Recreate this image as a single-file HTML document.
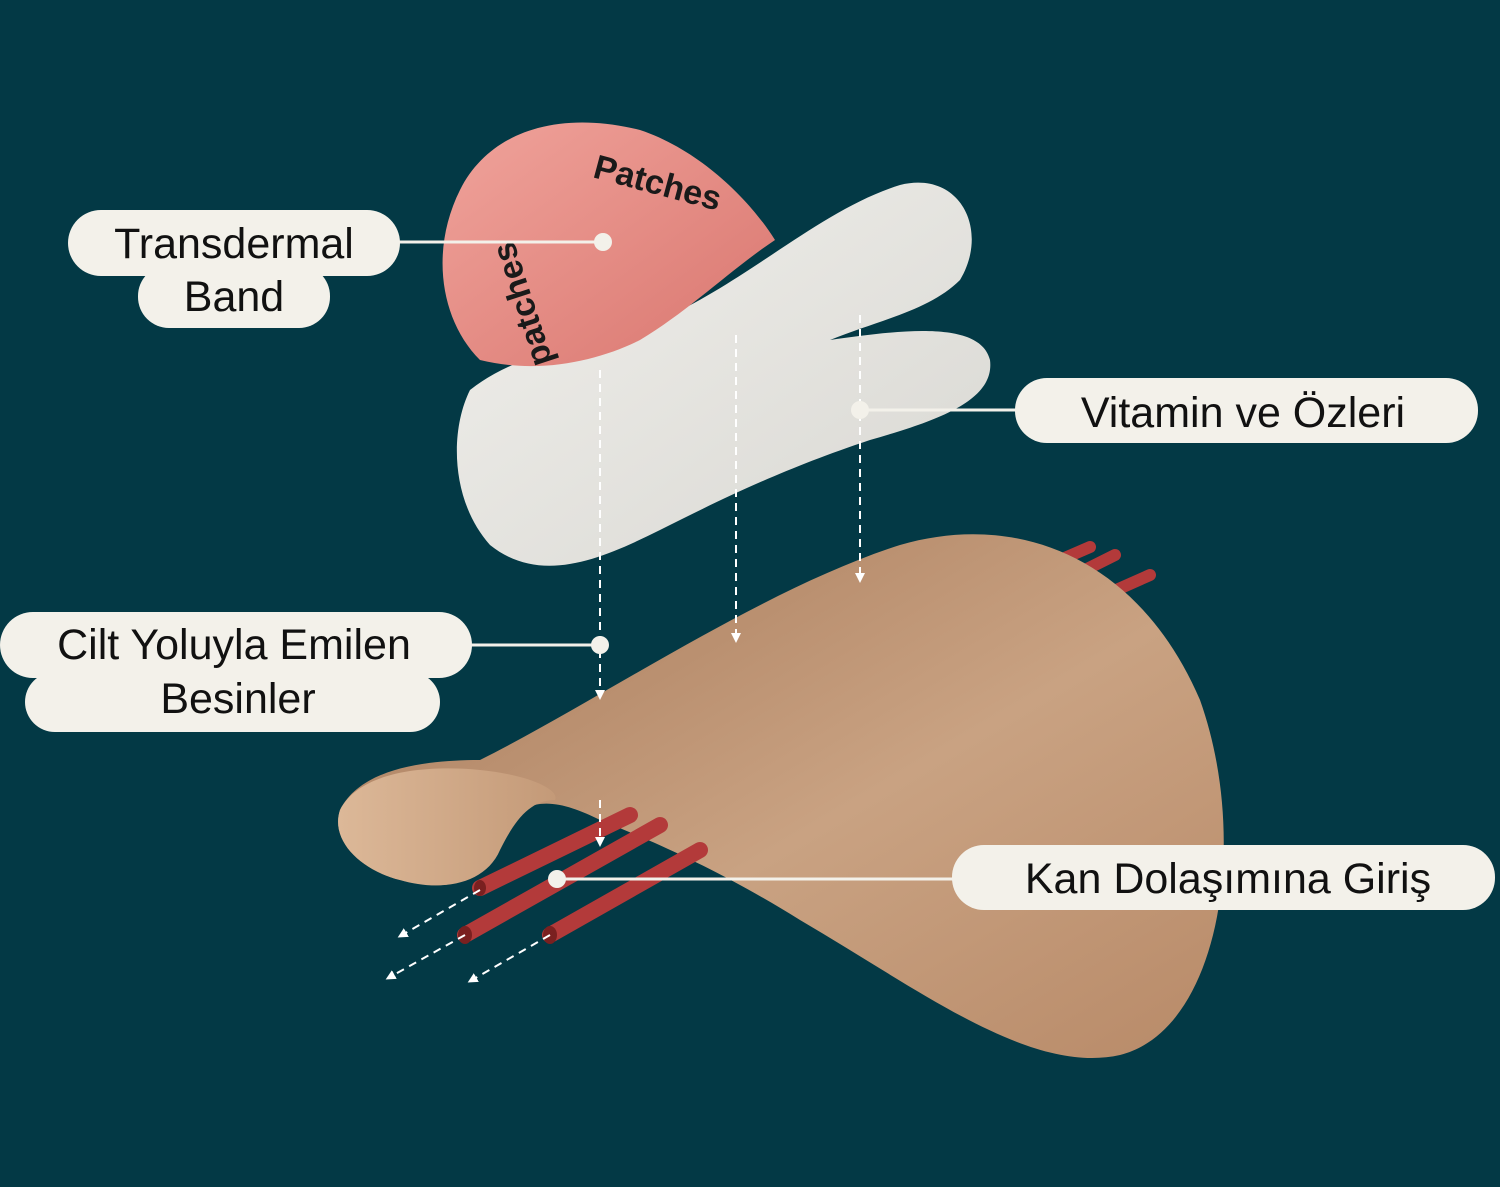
<!DOCTYPE html>
<html><head><meta charset="utf-8"><style>
html,body{margin:0;padding:0;background:#033945;}
svg{display:block}
text{font-family:"Liberation Sans",sans-serif;}
</style></head><body>
<svg width="1500" height="1187" viewBox="0 0 1500 1187" xmlns="http://www.w3.org/2000/svg">
<defs>
<linearGradient id="pink" x1="0" y1="0" x2="1" y2="1"><stop offset="0" stop-color="#f0a39b"/><stop offset="1" stop-color="#d9766f"/></linearGradient>
<linearGradient id="white" x1="0" y1="0" x2="1" y2="1"><stop offset="0" stop-color="#f1f0ec"/><stop offset="1" stop-color="#d8d7d2"/></linearGradient>
<linearGradient id="skin" x1="0" y1="0" x2="1" y2="1"><stop offset="0" stop-color="#a67858"/><stop offset="0.55" stop-color="#c9a282"/><stop offset="1" stop-color="#b88a68"/></linearGradient>
<linearGradient id="skin2" x1="0" y1="0" x2="1" y2="0"><stop offset="0" stop-color="#dcb898"/><stop offset="1" stop-color="#c49a78"/></linearGradient>
<marker id="ah" markerWidth="10" markerHeight="10" refX="5" refY="5" orient="auto" markerUnits="userSpaceOnUse"><path d="M0,0 L10,5 L0,10 z" fill="#fff"/></marker>
</defs>
<rect width="1500" height="1187" fill="#033945"/>

<g stroke="#b33a3a" stroke-width="12" stroke-linecap="round">
<line x1="1060" y1="560" x2="1090" y2="547"/>
<line x1="1075" y1="575" x2="1115" y2="555"/>
<line x1="1105" y1="595" x2="1150" y2="575"/>
</g>

<path d="M340,810 C360,770 420,760 480,760 C600,700 760,590 900,545 C1020,510 1140,560 1200,700 C1250,840 1220,1030 1120,1055 C1030,1075 920,990 800,920 C720,870 650,840 600,820 C560,800 520,790 500,840 C480,890 440,890 400,880 C360,870 330,840 340,810 Z" fill="url(#skin)"/>
<path d="M340,810 C360,770 430,765 480,770 C530,775 560,790 555,800 C530,800 515,820 500,850 C485,885 440,892 400,880 C360,870 330,840 340,810 Z" fill="url(#skin2)"/>

<g stroke="#b33a3a" stroke-width="16" stroke-linecap="round">
<line x1="480" y1="888" x2="630" y2="815"/>
<line x1="465" y1="935" x2="660" y2="825"/>
<line x1="550" y1="935" x2="700" y2="850"/>
</g>
<g fill="#7a2020"><ellipse cx="480" cy="888" rx="6" ry="8"/><ellipse cx="465" cy="935" rx="7" ry="9"/><ellipse cx="550" cy="935" rx="7" ry="9"/></g>

<path d="M470,390 C520,350 600,340 660,320 C750,280 820,210 900,185 C960,170 990,230 960,280 C930,310 880,320 830,340 C900,330 980,320 990,360 C995,400 940,420 870,440 C780,470 720,500 660,530 C600,560 540,585 490,545 C450,500 450,430 470,390 Z" fill="url(#white)"/>

<path d="M480,360 C440,320 430,250 460,190 C490,130 560,110 640,130 C700,150 750,200 775,240 C730,270 690,310 640,340 C600,360 540,375 480,360 Z" fill="url(#pink)"/>
<text x="590" y="190" font-size="34" font-weight="bold" fill="#1a1a1a" transform="rotate(15 640 190)">Patches</text>
<text x="0" y="0" font-size="34" font-weight="bold" fill="#1a1a1a" transform="translate(553 362) rotate(-108)">patches</text>

<g stroke="#fff" stroke-width="2" stroke-dasharray="8,6" fill="none">
<line x1="600" y1="370" x2="600" y2="695" marker-end="url(#ah)"/>
<line x1="600" y1="800" x2="600" y2="842" marker-end="url(#ah)"/>
<line x1="736" y1="335" x2="736" y2="638" marker-end="url(#ah)"/>
<line x1="860" y1="315" x2="860" y2="578" marker-end="url(#ah)"/>
<line x1="480" y1="890" x2="402" y2="935" marker-end="url(#ah)"/>
<line x1="465" y1="935" x2="390" y2="977" marker-end="url(#ah)"/>
<line x1="550" y1="935" x2="472" y2="980" marker-end="url(#ah)"/>
</g>

<g stroke="#f3f1ea" stroke-width="3">
<line x1="395" y1="242" x2="603" y2="242"/>
<line x1="860" y1="410" x2="1020" y2="410"/>
<line x1="468" y1="645" x2="600" y2="645"/>
<line x1="557" y1="879" x2="955" y2="879"/>
</g>
<g fill="#f3f1ea">
<circle cx="603" cy="242" r="9"/><circle cx="860" cy="410" r="9"/><circle cx="600" cy="645" r="9"/><circle cx="557" cy="879" r="9"/>
</g>

<g fill="#f3f1ea">
<rect x="138" y="265" width="192" height="63" rx="31"/>
<rect x="68" y="210" width="332" height="66" rx="33"/>
<rect x="1015" y="378" width="463" height="65" rx="32"/>
<rect x="25" y="672" width="415" height="60" rx="30"/>
<rect x="0" y="612" width="472" height="66" rx="33"/>
<rect x="952" y="845" width="543" height="65" rx="32"/>
</g>
<g font-size="43" fill="#111" text-anchor="middle" font-weight="500">
<text x="234" y="258">Transdermal</text>
<text x="234" y="311">Band</text>
<text x="1243" y="427">Vitamin ve Özleri</text>
<text x="234" y="659">Cilt Yoluyla Emilen</text>
<text x="238" y="713">Besinler</text>
<text x="1228" y="893">Kan Dolaşımına Giriş</text>
</g>
</svg>
</body></html>
